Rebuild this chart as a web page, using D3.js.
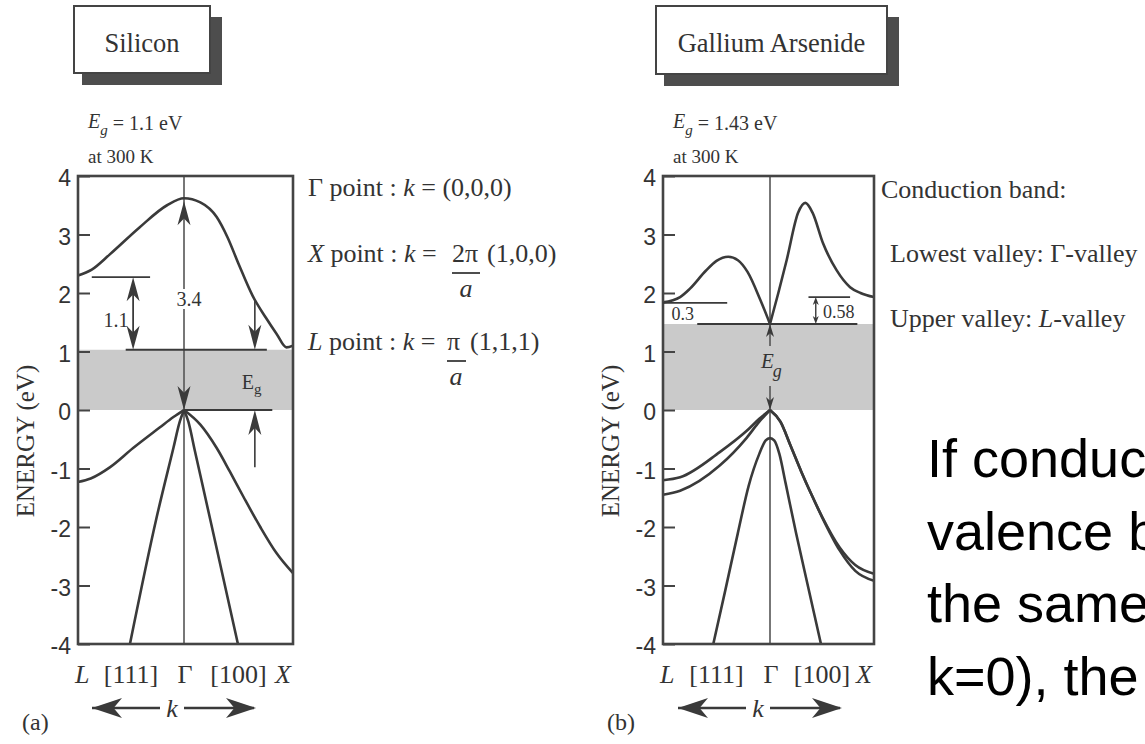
<!DOCTYPE html>
<html>
<head>
<meta charset="utf-8">
<script src="https://cdn.jsdelivr.net/npm/d3@7"></script>
<style>
  body { margin: 0; background: #fff; }
  svg { display: block; }
  text { white-space: pre; }
  .serif { font-family: "Liberation Serif", "Times New Roman", serif; fill: #333; }
  .sans { font-family: "Liberation Sans", Arial, sans-serif; fill: #333; }
  .big { font-family: "Liberation Sans", Arial, sans-serif; fill: #000; font-size: 54px; }
</style>
</head>
<body>
<svg id="chart" width="1145" height="744"></svg>
<script>
// ---- data: [k, energy eV], k = -1 (L) .. 0 (Γ) .. 1 (X)
const energyTicks = [-4, -3, -2, -1, 0, 1, 2, 3, 4]
const kLabels = [['L', -1], ['[111]', -0.5], ['Γ', 0], ['[100]', 0.5], ['X', 1]]

const siCond = [[-1, 2.3], [-0.87, 2.4], [-0.7, 2.66], [-0.42, 3.12], [-0.16, 3.5], [0, 3.62],
  [0.15, 3.55], [0.3, 3.3], [0.4, 2.95], [0.5, 2.5], [0.63, 1.95], [0.75, 1.58], [0.85, 1.3], [0.94, 1.07], [1, 1.1]]
const siHeavyL = [[0, 0], [-0.1, -0.12], [-0.23, -0.3], [-0.48, -0.65], [-0.7, -0.98], [-0.88, -1.17], [-1, -1.23]]
const siSteepL = [[0, 0], [-0.04, -0.2], [-0.1, -0.65], [-0.26, -1.85], [-0.51, -4]]
const siSteepX = [[0, 0], [0.04, -0.2], [0.1, -0.7], [0.25, -1.95], [0.495, -4]]
const siBandX = [[0, 0], [0.15, -0.25], [0.3, -0.65], [0.42, -1.05], [0.55, -1.5], [0.7, -2.0], [0.85, -2.45], [1, -2.79]]

const gaCondL = [[-1, 1.84], [-0.84, 1.93], [-0.75, 2.07], [-0.6, 2.38], [-0.5, 2.55], [-0.39, 2.62],
  [-0.3, 2.56], [-0.21, 2.36], [-0.09, 1.88], [0, 1.47]]
const gaCondR = [[0, 1.47], [0.08, 2.0], [0.16, 2.56], [0.27, 3.37], [0.34, 3.54], [0.41, 3.37],
  [0.51, 2.85], [0.64, 2.39], [0.77, 2.1], [0.87, 2.0], [1, 1.93]]
const gaHeavyL = [[0, 0], [-0.1, -0.15], [-0.22, -0.36], [-0.47, -0.72], [-0.84, -1.15], [-1, -1.2]]
const gaLightL = [[0, 0], [-0.1, -0.2], [-0.22, -0.48], [-0.47, -0.95], [-0.84, -1.38], [-1, -1.45]]
const gaHeavyX = [[0, 0], [0.1, -0.2], [0.2, -0.62], [0.3, -1.05], [0.4, -1.45], [0.5, -1.82], [0.67, -2.35], [0.82, -2.65], [1, -2.8]]
const gaLightX = [[0, 0], [0.1, -0.2], [0.2, -0.62], [0.3, -1.05], [0.4, -1.45], [0.5, -1.83], [0.67, -2.4], [0.82, -2.75], [1, -2.92]]
const gaSplit = [[-0.53, -4], [-0.42, -3.1], [-0.3, -2.1], [-0.2, -1.3], [-0.1, -0.75], [-0.04, -0.52], [0, -0.48],
  [0.04, -0.52], [0.09, -0.75], [0.15, -1.25], [0.25, -2.1], [0.37, -3.05], [0.49, -4]]

const siGapTop = 1.03
const gaGapTop = 1.47

const bigText = ['If conduction band minimum and', 'valence band maximum occur at',
  'the same value of momentum (at', 'k=0), the semiconductor is direct']

// ---- drawing
const svg = d3.select('#chart')
const ink = '#3a3a3a'
const y = d3.scaleLinear().domain([-4, 4]).range([644, 176])

const panels = [
  { title: 'Silicon', eg: '1.1', letter: '(a)', x: d3.scaleLinear().domain([-1, 0, 1]).range([78, 184, 293]),
    box: [74, 6, 136, 67], gap: siGapTop, bands: [siCond, siHeavyL, siSteepL, siSteepX, siBandX] },
  { title: 'Gallium Arsenide', eg: '1.43', letter: '(b)', x: d3.scaleLinear().domain([-1, 0, 1]).range([663, 770, 874]),
    box: [656, 6, 231, 68], gap: gaGapTop, bands: [gaCondL, gaCondR, gaHeavyL, gaLightL, gaHeavyX, gaLightX, gaSplit] }
]

const head = (g, x0, y0, dir, len, w) => {
  // barbed arrowhead with tip at (x0, y0)
  const rot = { up: 0, right: 90, down: 180, left: 270 }[dir]
  g.append('path')
    .attr('d', `M0,0 L${w},${len} L0,${len * 0.72} L${-w},${len} Z`)
    .attr('transform', `translate(${x0},${y0}) rotate(${rot})`)
    .attr('fill', ink)
}

const drawPanel = p => {
  const g = svg.append('g')
  const x = p.x
  const [bx, by, bw, bh] = p.box

  // title box with shadow
  g.append('rect').attr('x', bx + 8).attr('y', by + 11).attr('width', bw + 4).attr('height', bh + 1).attr('fill', '#4d4d4d')
  g.append('rect').attr('x', bx).attr('y', by).attr('width', bw).attr('height', bh)
    .attr('fill', '#fff').attr('stroke', '#444').attr('stroke-width', 2)
  g.append('text').attr('class', 'serif').attr('x', bx + bw / 2).attr('y', 52)
    .attr('text-anchor', 'middle').attr('font-size', 26.5).text(p.title)

  // Eg at 300 K
  const eg = g.append('text').attr('class', 'serif').attr('x', x(-1) + 10).attr('y', 128).attr('font-size', 20)
  eg.append('tspan').attr('font-style', 'italic').text('E')
  eg.append('tspan').attr('font-style', 'italic').attr('font-size', 15).attr('dy', 7).text('g')
  eg.append('tspan').attr('dy', -5).text(' = ' + p.eg + ' eV')
  g.append('text').attr('class', 'serif').attr('x', x(-1) + 10).attr('y', 163).attr('font-size', 19).text('at 300 K')

  // band gap shading
  g.append('rect').attr('x', x(-1)).attr('width', x(1) - x(-1))
    .attr('y', y(p.gap)).attr('height', y(0) - y(p.gap)).attr('fill', '#cacaca')

  // Γ line
  g.append('line').attr('x1', x(0)).attr('x2', x(0)).attr('y1', y(4)).attr('y2', y(-4))
    .attr('stroke', '#555').attr('stroke-width', 1.6)

  // bands
  const line = d3.line().x(d => x(d[0])).y(d => y(d[1])).curve(d3.curveMonotoneX)
  p.bands.forEach(b => {
    g.append('path').attr('d', line(b.slice().sort((a, c) => a[0] - c[0])))
      .attr('fill', 'none').attr('stroke', ink).attr('stroke-width', 2.6)
  })

  // frame
  g.append('rect').attr('x', x(-1)).attr('y', y(4)).attr('width', x(1) - x(-1)).attr('height', y(-4) - y(4))
    .attr('fill', 'none').attr('stroke', '#444').attr('stroke-width', 2.6)

  // energy axis
  const ax = g.append('g').attr('transform', `translate(${x(-1)},0)`)
    .call(d3.axisLeft(y).tickValues(energyTicks).tickSizeInner(-12).tickSizeOuter(0).tickPadding(7).tickFormat(d => String(d)))
  ax.select('.domain').remove()
  ax.selectAll('line').attr('stroke', '#444').attr('stroke-width', 2)
  ax.selectAll('text').attr('class', 'sans').attr('font-size', 23).attr('dy', '0.42em').attr('fill', '#333')

  g.append('text').attr('class', 'serif').attr('font-size', 25).attr('text-anchor', 'middle')
    .attr('transform', `translate(${x(-1) - 44},441) rotate(-90)`).text('ENERGY (eV)')

  // k labels
  kLabels.forEach(([t, k]) => {
    g.append('text').attr('class', 'serif').attr('font-size', 26).attr('y', 683)
      .attr('x', k === -1 ? x(k) - 3 : k === 1 ? x(k) - 2 : x(k) + (k === 0 ? 1 : 0))
      .attr('text-anchor', k === -1 ? 'start' : k === 1 ? 'end' : 'middle')
      .attr('font-style', t === 'L' || t === 'X' ? 'italic' : 'normal').text(t)
  })

  // k arrow
  const kx = x(0) - 12
  const ka = g.append('g')
  ka.append('line').attr('x1', kx - 80).attr('x2', kx - 12).attr('y1', 708).attr('y2', 708).attr('stroke', ink).attr('stroke-width', 2.4)
  ka.append('line').attr('x1', kx + 12).attr('x2', kx + 82).attr('y1', 708).attr('y2', 708).attr('stroke', ink).attr('stroke-width', 2.4)
  head(ka, kx - 80, 708, 'left', 30, 10)
  head(ka, kx + 84, 708, 'right', 30, 10)
  g.append('text').attr('class', 'serif').attr('font-size', 26).attr('font-style', 'italic')
    .attr('x', kx).attr('y', 717).attr('text-anchor', 'middle').text('k')

  g.append('text').attr('class', 'serif').attr('font-size', 24)
    .attr('x', x(-1) - 56).attr('y', 730).text(p.letter)
  return g
}

const [si, ga] = panels
const gSi = drawPanel(si)
const gGa = drawPanel(ga)

const hline = (g, x1, x2, yy, w) => g.append('line').attr('x1', x1).attr('x2', x2).attr('y1', yy).attr('y2', yy)
  .attr('stroke', ink).attr('stroke-width', w || 1.8)
const vline = (g, xx, y1, y2, w) => g.append('line').attr('x1', xx).attr('x2', xx).attr('y1', y1).attr('y2', y2)
  .attr('stroke', ink).attr('stroke-width', w || 1.6)

// ---- silicon annotations
{
  const x = si.x, g = gSi
  hline(g, x(-0.87), x(-0.32), y(2.27))
  hline(g, x(-0.55), x(0.76), y(siGapTop))
  hline(g, x(0), x(0.81), y(0))
  // 1.1 double arrow
  vline(g, x(-0.48), y(2.27) + 10, y(siGapTop) - 10, 1.8)
  head(g, x(-0.48), y(2.27), 'up', 24, 6.5)
  head(g, x(-0.48), y(siGapTop), 'down', 24, 6.5)
  g.append('text').attr('class', 'serif').attr('font-size', 20).attr('fill', '#555')
    .attr('x', x(-0.76)).attr('y', 327).text('1.1')
  // 3.4 along Γ
  head(g, x(0), y(3.62) + 3, 'up', 24, 6.5)
  head(g, x(0), y(0), 'down', 24, 6.5)
  g.append('rect').attr('x', x(0) - 10).attr('y', 289).attr('width', 26).attr('height', 20).attr('fill', '#fff')
  g.append('text').attr('class', 'serif').attr('font-size', 20).attr('text-anchor', 'middle')
    .attr('x', x(0) + 5).attr('y', 306).text('3.4')
  // Eg arrows
  vline(g, x(0.65), y(1.87), y(siGapTop) - 12, 1.6)
  head(g, x(0.65), y(siGapTop), 'down', 25, 6.5)
  vline(g, x(0.65), y(-0.98), y(0) + 12, 1.6)
  head(g, x(0.65), y(0), 'up', 25, 6.5)
  const t = g.append('text').attr('class', 'serif').attr('font-size', 20).attr('x', x(0.53)).attr('y', 389)
  t.append('tspan').text('E')
  t.append('tspan').attr('font-size', 15).attr('dy', 5).text('g')

  // k point definitions
  const r = g.append('g').attr('class', 'serif').attr('font-size', 26)
  const t1 = r.append('text').attr('x', 308).attr('y', 196)
  t1.append('tspan').text('Γ point : ')
  t1.append('tspan').attr('font-style', 'italic').text('k')
  t1.append('tspan').text(' = (0,0,0)')

  const t2 = r.append('text').attr('x', 308).attr('y', 262)
  t2.append('tspan').attr('font-style', 'italic').text('X')
  t2.append('tspan').text(' point : ')
  t2.append('tspan').attr('font-style', 'italic').text('k')
  t2.append('tspan').text(' =')
  r.append('text').attr('x', 452).attr('y', 262).text('2π')
  r.append('text').attr('x', 487).attr('y', 262).text('(1,0,0)')
  hline(r, 452, 480, 273, 1.8)
  r.append('text').attr('x', 466).attr('y', 297).attr('text-anchor', 'middle').attr('font-style', 'italic').text('a')

  const t3 = r.append('text').attr('x', 308).attr('y', 350)
  t3.append('tspan').attr('font-style', 'italic').text('L')
  t3.append('tspan').text(' point : ')
  t3.append('tspan').attr('font-style', 'italic').text('k')
  t3.append('tspan').text(' =')
  r.append('text').attr('x', 447).attr('y', 350).text('π')
  r.append('text').attr('x', 470).attr('y', 350).text('(1,1,1)')
  hline(r, 447, 466, 361, 1.8)
  r.append('text').attr('x', 456).attr('y', 385).attr('text-anchor', 'middle').attr('font-style', 'italic').text('a')
}

// ---- gallium arsenide annotations
{
  const x = ga.x, g = gGa
  hline(g, x(-1), x(-0.4), y(1.83))
  hline(g, x(-0.68), x(0.84), y(gaGapTop))
  hline(g, x(0.37), x(0.77), y(1.93))
  g.append('text').attr('class', 'serif').attr('font-size', 18).attr('x', x(-0.92)).attr('y', 320).text('0.3')
  g.append('text').attr('class', 'serif').attr('font-size', 18).attr('x', x(0.51)).attr('y', 318).text('0.58')
  vline(g, x(0.44), y(1.93) + 5, y(gaGapTop) - 5, 1.4)
  head(g, x(0.44), y(1.93), 'up', 8, 3)
  head(g, x(0.44), y(gaGapTop), 'down', 8, 3)
  // Eg at Γ
  g.append('rect').attr('x', x(0) - 10).attr('y', 346).attr('width', 22).attr('height', 40).attr('fill', '#cacaca')
  head(g, x(0), y(gaGapTop), 'up', 13, 4)
  head(g, x(0), y(0), 'down', 13, 4)
  const t = g.append('text').attr('class', 'serif').attr('font-size', 21).attr('font-style', 'italic').attr('x', x(0) - 9).attr('y', 368)
  t.append('tspan').text('E')
  t.append('tspan').attr('font-size', 18).attr('dx', -1).attr('dy', 9).text('g')

  const r = g.append('g').attr('class', 'serif').attr('font-size', 26)
  r.append('text').attr('x', 881).attr('y', 198).text('Conduction band:')
  const a = r.append('text').attr('x', 890).attr('y', 262)
  a.append('tspan').text('Lowest valley: Γ-valley')
  const b = r.append('text').attr('x', 890).attr('y', 327)
  b.append('tspan').text('Upper valley: ')
  b.append('tspan').attr('font-style', 'italic').text('L')
  b.append('tspan').text('-valley')
}

// ---- big note text, cut by the right edge as on the slide
svg.append('g').selectAll('text').data(bigText).join('text')
  .attr('class', 'big').attr('x', 927).attr('y', (d, i) => 477 + i * 72.5).text(d => d)
</script>
</body>
</html>
